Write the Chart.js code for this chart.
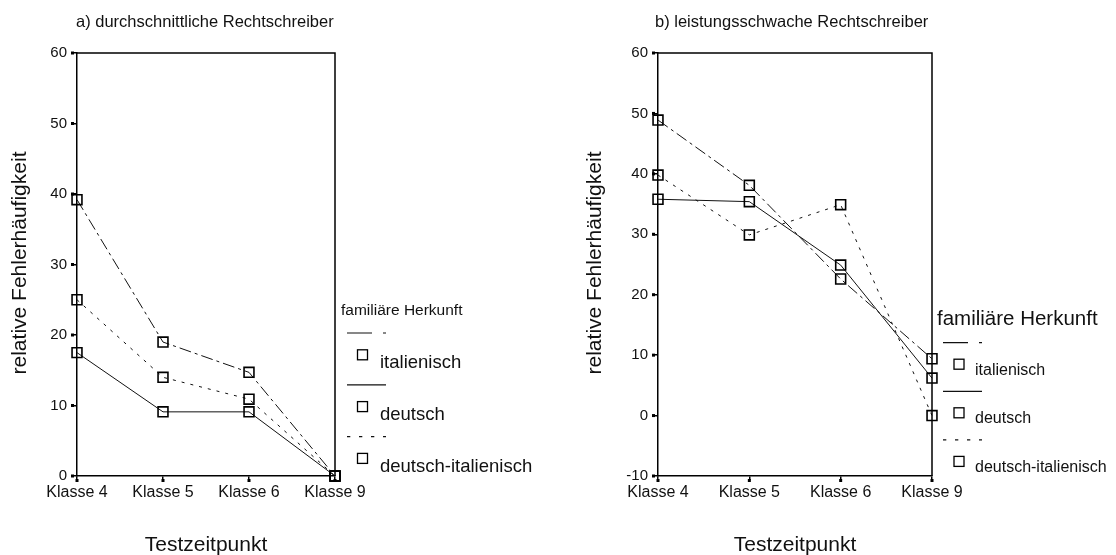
<!DOCTYPE html>
<html>
<head>
<meta charset="utf-8">
<script src="https://cdn.jsdelivr.net/npm/chart.js@4.4.1/dist/chart.umd.min.js"></script>
<style>
  html, body { margin: 0; padding: 0; background: #fff; width: 1116px; height: 555px; overflow: hidden; }
  .panel { position: absolute; top: 0; height: 555px; }
  #panelA { left: 0; width: 560px; }
  #panelB { left: 560px; width: 556px; }
</style>
</head>
<body>
<div class="panel" id="panelA"><canvas id="chartA"></canvas></div>
<div class="panel" id="panelB"><canvas id="chartB"></canvas></div>
<script>
// Testzeitpunkte (x-Achse)
const klassen = ['Klasse 4', 'Klasse 5', 'Klasse 6', 'Klasse 9'];
// Gruppen der familiären Herkunft
const herkunft = ['italienisch', 'deutsch', 'deutsch-italienisch'];

// a) durchschnittliche Rechtschreiber – relative Fehlerhäufigkeit
const durchItalienisch = [39.2, 19.0, 14.7, 0];
const durchDeutsch = [17.5, 9.1, 9.1, 0];
const durchDeutschItal = [25.0, 14.0, 10.9, 0];

// b) leistungsschwache Rechtschreiber – relative Fehlerhäufigkeit
const schwachItalienisch = [48.9, 38.1, 22.6, 9.4];
const schwachDeutsch = [35.8, 35.4, 24.9, 6.2];
const schwachDeutschItal = [39.8, 29.9, 34.9, 0];

// Achsenbeschriftungen
const yTicksA = [0, 10, 20, 30, 40, 50, 60];
const yTicksB = [-10, 0, 10, 20, 30, 40, 50, 60];

const FONT = "'Liberation Sans', Arial, sans-serif";
const INK = '#111';

// Linienmuster je Herkunftsgruppe (Diagramm / Legende)
const lineDash = [[12, 4, 3, 4], [], [3, 6]];
const legendDash = [[25, 11, 3, 200], [], [3.3, 8.7]];

function makeDatasets(values) {
  return values.map((v, i) => ({
    label: herkunft[i],
    data: v,
    borderColor: INK,
    borderWidth: 1,
    borderDash: lineDash[i],
    pointStyle: 'rect',
    pointRadius: 7,
    pointHoverRadius: 7,
    pointBorderWidth: 1.6,
    pointBorderColor: '#000',
    pointBackgroundColor: 'rgba(0,0,0,0)',
    tension: 0,
    clip: false
  }));
}

// Rahmen, Titel, Achsentitel, Tick-Punkte und Legende
const decorations = {
  id: 'decorations',
  afterDraw(chart, args, o) {
    const { ctx, chartArea: a } = chart;
    ctx.save();
    // Rahmen oben und rechts
    ctx.strokeStyle = '#000';
    ctx.lineWidth = 1.5;
    ctx.setLineDash([]);
    ctx.beginPath();
    ctx.moveTo(a.left, a.top);
    ctx.lineTo(a.right, a.top);
    ctx.lineTo(a.right, a.bottom);
    ctx.stroke();

    // kleine Punkte an den Tick-Enden
    ctx.fillStyle = '#000';
    const ys = chart.scales.y;
    ys.ticks.forEach(t => {
      const y = ys.getPixelForValue(t.value);
      ctx.fillRect(a.left - 6, y - 1.5, 3, 3);
    });
    const xs = chart.scales.x;
    xs.ticks.forEach((t, i) => {
      const x = xs.getPixelForTick(i);
      ctx.fillRect(x - 1.5, a.bottom + 3, 3, 3);
    });

    // Diagrammtitel
    ctx.fillStyle = INK;
    ctx.font = `16.5px ${FONT}`;
    ctx.textAlign = 'left';
    ctx.textBaseline = 'alphabetic';
    ctx.fillText(o.title, o.titleX, 27);

    // Achsentitel
    ctx.font = `21px ${FONT}`;
    ctx.textAlign = 'center';
    ctx.fillText('Testzeitpunkt', (a.left + a.right) / 2, 551);
    ctx.save();
    ctx.translate(o.yTitleX, 263);
    ctx.rotate(-Math.PI / 2);
    ctx.textBaseline = 'middle';
    ctx.fillText('relative Fehlerhäufigkeit', 0, 0);
    ctx.restore();

    // Legende
    const L = o.legend;
    ctx.textAlign = 'left';
    ctx.textBaseline = 'alphabetic';
    ctx.font = `${L.titleFont}px ${FONT}`;
    ctx.fillText('familiäre Herkunft', L.titleX, L.titleY);
    herkunft.forEach((name, i) => {
      const ly = L.lineY + i * L.step;
      ctx.strokeStyle = INK;
      ctx.lineWidth = 1.2;
      ctx.setLineDash(legendDash[i]);
      ctx.beginPath();
      ctx.moveTo(L.lineX0, ly);
      ctx.lineTo(L.lineX1, ly);
      ctx.stroke();
      ctx.setLineDash([]);
      ctx.strokeStyle = '#000';
      ctx.lineWidth = 1.3;
      const s = L.sq;
      ctx.strokeRect(L.sqX - s / 2, ly + L.sqDy - s / 2, s, s);
      ctx.font = `${L.itemFont}px ${FONT}`;
      ctx.fillStyle = INK;
      ctx.fillText(name, L.textX, ly + L.textDy);
    });
    ctx.restore();
  }
};

function makeChart(id, values, yTicks, geo) {
  return new Chart(document.getElementById(id), {
    type: 'line',
    data: { labels: klassen, datasets: makeDatasets(values) },
    plugins: [decorations],
    options: {
      responsive: true,
      maintainAspectRatio: false,
      animation: false,
      events: [],
      layout: { padding: { top: 53, right: geo.padRight, bottom: 0, left: 0 } },
      plugins: {
        legend: { display: false },
        title: { display: false },
        tooltip: { enabled: false },
        decorations: geo
      },
      scales: {
        x: {
          offset: false,
          grid: { drawOnChartArea: false, drawTicks: true, tickLength: 4, color: '#000', lineWidth: 1.5 },
          border: { display: true, color: '#000', width: 1.5 },
          ticks: { color: INK, font: { family: FONT, size: 16 }, padding: 3, maxRotation: 0, autoSkip: false },
          afterFit(s) { s.height = 79; }
        },
        y: {
          min: yTicks[0],
          max: yTicks[yTicks.length - 1],
          afterBuildTicks(s) { s.ticks = yTicks.map(v => ({ value: v })); },
          grid: { drawOnChartArea: false, drawTicks: true, tickLength: 5, color: '#000', lineWidth: 1.5 },
          border: { display: true, color: '#000', width: 1.5 },
          ticks: { color: INK, font: { family: FONT, size: 15 }, padding: 5 },
          afterFit(s) { s.width = geo.axisWidth; }
        }
      }
    }
  });
}

makeChart('chartA', [durchItalienisch, durchDeutsch, durchDeutschItal], yTicksA, {
  title: 'a) durchschnittliche Rechtschreiber',
  titleX: 76,
  yTitleX: 20,
  axisWidth: 77,
  padRight: 560 - 335,
  legend: {
    titleX: 341, titleY: 315, titleFont: 15.5,
    lineX0: 347, lineX1: 386, lineY: 333, step: 51.8,
    sqX: 362.5, sqDy: 21.8, sq: 10,
    textX: 380, textDy: 35.3, itemFont: 18.5
  }
});

makeChart('chartB', [schwachItalienisch, schwachDeutsch, schwachDeutschItal], yTicksB, {
  title: 'b) leistungsschwache Rechtschreiber',
  titleX: 655 - 560,
  yTitleX: 595.5 - 560,
  axisWidth: 658 - 560,
  padRight: 556 - (932 - 560),
  legend: {
    titleX: 937 - 560, titleY: 325, titleFont: 20.5,
    lineX0: 943 - 560, lineX1: 982 - 560, lineY: 342.7, step: 48.6,
    sqX: 959 - 560, sqDy: 21.5, sq: 10,
    textX: 975 - 560, textDy: 31.8, itemFont: 16
  }
});
</script>
</body>
</html>
